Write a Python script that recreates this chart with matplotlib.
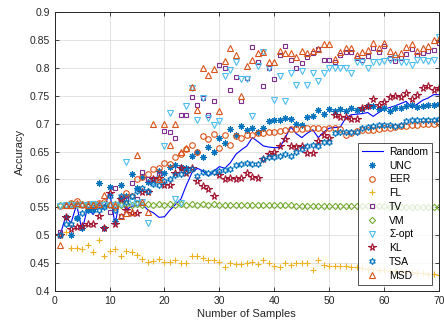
import matplotlib
matplotlib.use("Agg")
import matplotlib.pyplot as plt
import numpy as np

plt.rcParams["font.family"] = ["Liberation Sans", "DejaVu Sans"]

# --- data (x = 1..70) ---
samples = list(range(1, 71))

random_acc = [0.500, 0.533, 0.522, 0.555, 0.508, 0.550, 0.537, 0.555, 0.548, 0.578,
              0.520, 0.570, 0.545, 0.552, 0.553, 0.555, 0.545, 0.540, 0.532, 0.533,
              0.545, 0.555, 0.565, 0.590, 0.612, 0.620, 0.615, 0.606, 0.615, 0.623,
              0.620, 0.630, 0.645, 0.653, 0.660, 0.675, 0.668, 0.660, 0.658, 0.657,
              0.657, 0.675, 0.694, 0.682, 0.675, 0.683, 0.689, 0.675, 0.685, 0.692,
              0.693, 0.694, 0.710, 0.716, 0.717, 0.718, 0.720, 0.713, 0.720, 0.726,
              0.729, 0.732, 0.736, 0.740, 0.729, 0.735, 0.742, 0.746, 0.752, 0.752]

unc = [0.500, 0.532, 0.500, 0.530, 0.512, 0.545, 0.548, 0.594, 0.513, 0.587,
       0.525, 0.590, 0.570, 0.610, 0.585, 0.605, 0.595, 0.600, 0.615, 0.612,
       0.622, 0.625, 0.622, 0.620, 0.642, 0.650, 0.641, 0.659, 0.650, 0.674,
       0.666, 0.690, 0.680, 0.696, 0.688, 0.693, 0.685, 0.693, 0.704, 0.706,
       0.707, 0.710, 0.708, 0.700, 0.698, 0.712, 0.713, 0.724, 0.718, 0.726,
       0.722, 0.726, 0.722, 0.728, 0.725, 0.727, 0.731, 0.732, 0.727, 0.728,
       0.723, 0.728, 0.728, 0.731, 0.733, 0.730, 0.731, 0.733, 0.734, 0.736]

eer = [0.552, 0.555, 0.557, 0.562, 0.555, 0.556, 0.556, 0.557, 0.560, 0.555,
       0.550, 0.565, 0.576, 0.570, 0.600, 0.605, 0.610, 0.619, 0.620, 0.629,
       0.628, 0.641, 0.646, 0.655, 0.662, 0.650, 0.678, 0.672, 0.682, 0.656,
       0.680, 0.662, 0.677, 0.675, 0.680, 0.679, 0.683, 0.683, 0.685, 0.685,
       0.686, 0.688, 0.690, 0.690, 0.691, 0.693, 0.692, 0.692, 0.691, 0.692,
       0.692, 0.690, 0.680, 0.683, 0.686, 0.688, 0.689, 0.689, 0.690, 0.692,
       0.693, 0.694, 0.695, 0.696, 0.697, 0.698, 0.699, 0.700, 0.700, 0.701]

fl = [0.500, 0.505, 0.477, 0.477, 0.476, 0.483, 0.469, 0.492, 0.463, 0.472,
      0.475, 0.462, 0.471, 0.470, 0.465, 0.458, 0.451, 0.453, 0.458, 0.452,
      0.452, 0.455, 0.450, 0.450, 0.462, 0.463, 0.459, 0.456, 0.456, 0.451,
      0.443, 0.450, 0.448, 0.448, 0.450, 0.452, 0.448, 0.455, 0.450, 0.444,
      0.443, 0.450, 0.446, 0.450, 0.450, 0.450, 0.437, 0.455, 0.446, 0.445,
      0.445, 0.445, 0.444, 0.443, 0.443, 0.442, 0.440, 0.440, 0.438, 0.437,
      0.436, 0.436, 0.435, 0.434, 0.434, 0.433, 0.432, 0.430, 0.430, 0.428]

tv = [0.505, 0.553, 0.553, 0.555, 0.555, 0.553, 0.555, 0.555, 0.556, 0.542,
      0.585, 0.535, 0.565, 0.594, 0.565, 0.614, 0.600, 0.600, 0.610, 0.686,
      0.685, 0.674, 0.716, 0.716, 0.748, 0.734, 0.746, 0.715, 0.741, 0.806,
      0.800, 0.760, 0.784, 0.740, 0.781, 0.838, 0.810, 0.768, 0.800, 0.780,
      0.823, 0.839, 0.815, 0.800, 0.808, 0.820, 0.826, 0.833, 0.815, 0.815,
      0.810, 0.824, 0.828, 0.828, 0.818, 0.815, 0.822, 0.835, 0.828, 0.840,
      0.817, 0.813, 0.817, 0.825, 0.833, 0.824, 0.827, 0.830, 0.832, 0.845]

vm = [0.555, 0.555, 0.556, 0.555, 0.556, 0.555, 0.556, 0.555, 0.556, 0.555,
      0.556, 0.555, 0.556, 0.555, 0.556, 0.555, 0.556, 0.555, 0.556, 0.555,
      0.556, 0.555, 0.556, 0.555, 0.556, 0.555, 0.556, 0.555, 0.556, 0.555,
      0.555, 0.555, 0.555, 0.555, 0.555, 0.555, 0.555, 0.555, 0.555, 0.555,
      0.554, 0.554, 0.554, 0.553, 0.553, 0.553, 0.553, 0.552, 0.553, 0.552,
      0.553, 0.552, 0.553, 0.552, 0.553, 0.552, 0.552, 0.552, 0.552, 0.552,
      0.551, 0.551, 0.551, 0.551, 0.551, 0.551, 0.551, 0.551, 0.550, 0.550]

sigma_opt = [0.553, 0.555, 0.555, 0.555, 0.555, 0.555, 0.556, 0.555, 0.555, 0.555,
             0.555, 0.556, 0.632, 0.560, 0.558, 0.560, 0.522, 0.595, 0.600, 0.660,
             0.720, 0.565, 0.558, 0.731, 0.764, 0.706, 0.746, 0.710, 0.697, 0.704,
             0.786, 0.796, 0.810, 0.780, 0.780, 0.714, 0.803, 0.828, 0.800, 0.743,
             0.786, 0.740, 0.790, 0.770, 0.794, 0.770, 0.790, 0.776, 0.790, 0.800,
             0.800, 0.800, 0.800, 0.790, 0.811, 0.810, 0.800, 0.810, 0.810, 0.813,
             0.815, 0.818, 0.810, 0.810, 0.806, 0.815, 0.815, 0.812, 0.815, 0.855]

kl = [0.500, 0.533, 0.511, 0.515, 0.516, 0.520, 0.520, 0.535, 0.513, 0.576,
      0.520, 0.565, 0.545, 0.540, 0.540, 0.578, 0.578, 0.601, 0.602, 0.590,
      0.590, 0.612, 0.620, 0.612, 0.620, 0.598, 0.589, 0.583, 0.570, 0.608,
      0.600, 0.602, 0.600, 0.602, 0.611, 0.605, 0.602, 0.636, 0.645, 0.650,
      0.660, 0.672, 0.660, 0.658, 0.660, 0.647, 0.648, 0.668, 0.680, 0.675,
      0.716, 0.712, 0.712, 0.708, 0.708, 0.728, 0.732, 0.745, 0.734, 0.738,
      0.748, 0.750, 0.748, 0.755, 0.745, 0.752, 0.764, 0.767, 0.760, 0.764]

tsa = [0.500, 0.520, 0.520, 0.530, 0.540, 0.545, 0.545, 0.545, 0.550, 0.570,
       0.545, 0.570, 0.560, 0.570, 0.580, 0.585, 0.580, 0.592, 0.590, 0.598,
       0.600, 0.608, 0.610, 0.615, 0.618, 0.606, 0.614, 0.612, 0.614, 0.615,
       0.617, 0.619, 0.625, 0.628, 0.630, 0.628, 0.627, 0.636, 0.640, 0.640,
       0.642, 0.645, 0.642, 0.650, 0.655, 0.660, 0.662, 0.660, 0.667, 0.667,
       0.683, 0.685, 0.685, 0.685, 0.685, 0.692, 0.694, 0.695, 0.697, 0.698,
       0.697, 0.696, 0.697, 0.705, 0.707, 0.707, 0.706, 0.707, 0.707, 0.708]

msd = [0.483, 0.555, 0.555, 0.558, 0.556, 0.555, 0.555, 0.556, 0.572, 0.556,
       0.555, 0.535, 0.540, 0.542, 0.644, 0.560, 0.542, 0.700, 0.600, 0.700,
       0.661, 0.700, 0.650, 0.656, 0.766, 0.724, 0.800, 0.788, 0.798, 0.723,
       0.813, 0.836, 0.824, 0.749, 0.803, 0.815, 0.826, 0.828, 0.810, 0.810,
       0.830, 0.826, 0.826, 0.820, 0.830, 0.826, 0.830, 0.834, 0.842, 0.842,
       0.816, 0.828, 0.836, 0.836, 0.823, 0.828, 0.832, 0.844, 0.836, 0.844,
       0.830, 0.825, 0.827, 0.837, 0.842, 0.830, 0.835, 0.840, 0.850, 0.852]

x_ticks = [0, 10, 20, 30, 40, 50, 60, 70]
y_ticks = [0.4, 0.45, 0.5, 0.55, 0.6, 0.65, 0.7, 0.75, 0.8, 0.85, 0.9]

fig = plt.figure(figsize=(4.44, 3.28), dpi=100)
ax = fig.add_axes([0.123, 0.113, 0.866, 0.850])

ax.plot(samples, random_acc, "-", color="#0000ff", lw=0.8, label="Random")

asterisk = (8, 2, 0)
hexagram = (6, 1, 0)
# values, marker, colour, label, filled, marker size
series = [
    (unc, asterisk, "#0072BD", "UNC", True, 4.4),
    (eer, "o", "#D95319", "EER", False, 4.0),
    (fl, "+", "#EDB120", "FL", True, 4.4),
    (tv, "s", "#7E2F8E", "TV", False, 3.5),
    (vm, "D", "#77AC30", "VM", False, 3.2),
    (sigma_opt, "v", "#4DBEEE", "\u03a3-opt", False, 4.4),
    (kl, "*", "#A2142F", "KL", False, 5.4),
    (tsa, hexagram, "#0072BD", "TSA", False, 4.6),
    (msd, "^", "#D95319", "MSD", False, 4.4),
]
for vals, mk, col, lab, filled, ms in series:
    ax.plot(samples, vals, linestyle="none", marker=mk, ms=ms,
            mec=col, mfc=col if filled else "none", mew=0.8, label=lab)

ax.set_xlim(0, 70)
ax.set_ylim(0.4, 0.9)
ax.set_xticks(x_ticks)
ax.set_yticks(y_ticks)
ax.set_yticklabels([f"{v:g}" for v in y_ticks])
ax.grid(True, color="#dddddd", lw=0.6)
ax.set_axisbelow(True)
ax.tick_params(direction="in", top=True, right=True, labelsize=7.5,
               colors="#262626", length=3, width=0.6)
for sp in ax.spines.values():
    sp.set_color("#262626")
    sp.set_linewidth(0.7)

ax.set_xlabel("Number of Samples", fontsize=8, color="#262626", labelpad=2)
ax.set_ylabel("Accuracy", fontsize=8, color="#262626", labelpad=3)

leg = ax.legend(loc="lower right", bbox_to_anchor=(0.982, 0.022), borderaxespad=0,
                fontsize=7.5, frameon=True, fancybox=False, edgecolor="#262626",
                handlelength=2.0, labelspacing=0.36, borderpad=0.4, handletextpad=0.6,
                numpoints=1)
leg.get_frame().set_linewidth(0.7)

fig.savefig("out.png", dpi=100)
